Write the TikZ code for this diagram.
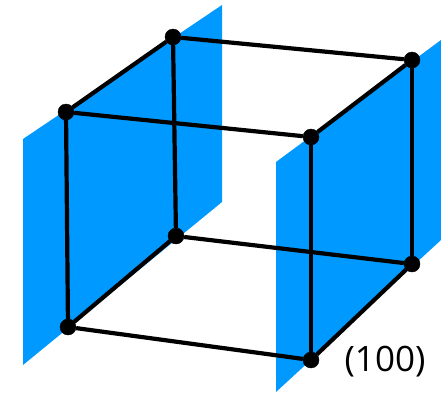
\documentclass[tikz,border=0pt]{standalone}
\usepackage{fontspec}
\setmainfont{Open Sans}
\usepackage{xcolor}
\usetikzlibrary{positioning}
\definecolor{planeblue}{RGB}{0,153,255}

\begin{document}
\begin{tikzpicture}[
        x=1pt,y=-1pt,
        vertice/.style={draw,circle,fill=black,inner sep=0pt,minimum size=16pt},
        aresta/.style={line width=4.2pt,black},
        plano/.style={fill=planeblue,draw=none}
    ]
        \useasboundingbox (0,0) rectangle (441,392);
        \fill[plano] (23,139) -- (222,5) -- (222,202) -- (23,365) -- cycle;
        \fill[plano] (276,162) -- (441,40) -- (441,240) -- (276,392) -- cycle;

        \node[vertice] (tfl) at (66,112) {};
        \node[vertice] (tbl) at (173,37) {};
        \node[vertice] (tfr) at (311,137) {};
        \node[vertice] (tbr) at (412,60) {};
        \node[vertice] (bfl) at (68,327) {};
        \node[vertice] (bbl) at (176,236) {};
        \node[vertice] (bfr) at (311,360) {};
        \node[vertice] (bbr) at (412,264) {};
        \node[font=\fontsize{35}{35}\selectfont,inner sep=0pt] (lbl) at (385,362) {(100)};

        \draw[aresta] (tfl) -- (tbl);
        \draw[aresta] (tbl) -- (tbr);
        \draw[aresta] (tbr) -- (tfr);
        \draw[aresta] (tfr) -- (tfl);
        \draw[aresta] (bfl) -- (bbl);
        \draw[aresta] (bbl) -- (bbr);
        \draw[aresta] (bbr) -- (bfr);
        \draw[aresta] (bfr) -- (bfl);
        \draw[aresta] (tfl) -- (bfl);
        \draw[aresta] (tbl) -- (bbl);
        \draw[aresta] (tfr) -- (bfr);
        \draw[aresta] (tbr) -- (bbr);
    \end{tikzpicture}
\end{document}
